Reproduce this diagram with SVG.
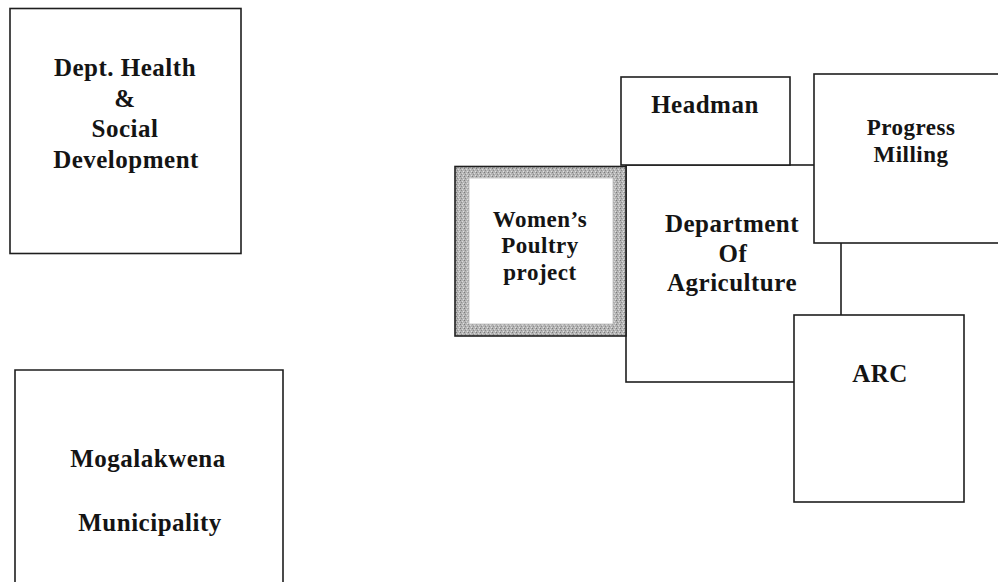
<svg xmlns="http://www.w3.org/2000/svg" width="998" height="582" viewBox="0 0 998 582">
<defs>
<pattern id="stip" width="4" height="4" patternUnits="userSpaceOnUse">
<rect width="4" height="4" fill="#b4b4b4"/>
<rect x="0" y="0" width="1" height="1" fill="#7a7a7a"/>
<rect x="2" y="1" width="1" height="1" fill="#d8d8d8"/>
<rect x="1" y="2" width="1" height="1" fill="#8c8c8c"/>
<rect x="3" y="3" width="1" height="1" fill="#e0e0e0"/>
</pattern>
</defs>
<style>
.box{fill:#fff;stroke:#1e1e1e;stroke-width:1.6}
.t{font-family:"Liberation Serif","Times New Roman",serif;font-weight:bold;fill:#141414;text-anchor:middle;letter-spacing:0.5px}
.l{font-size:25px}
.s{font-size:23px}
</style>
<rect width="998" height="582" fill="#fff"/>
<g id="connectors"></g>
<g id="dept-health">
<rect class="box" x="10" y="8.5" width="231" height="245"/>
<text class="t l" x="125" y="76">Dept. Health</text>
<text class="t l" x="125" y="107">&amp;</text>
<text class="t l" x="125" y="137">Social</text>
<text class="t l" x="126" y="168">Development</text>
</g>
<g id="mogalakwena">
<path class="box" d="M15,600 V370 H283 V600"/>
<text class="t l" x="148" y="467">Mogalakwena</text>
<text class="t l" x="150" y="531">Municipality</text>
</g>
<g id="dept-agriculture">
<rect class="box" x="626" y="165" width="215" height="217"/>
<text class="t l" x="732" y="232">Department</text>
<text class="t l" x="733" y="262">Of</text>
<text class="t l" x="732" y="291">Agriculture</text>
</g>
<g id="headman">
<rect class="box" x="621" y="77" width="169" height="88"/>
<text class="t l" x="705" y="113">Headman</text>
</g>
<g id="womens-poultry">
<rect x="455" y="166.5" width="171" height="169.5" fill="url(#stip)" stroke="#1e1e1e" stroke-width="1.6"/>
<rect x="469" y="178" width="144" height="146" fill="#fff" stroke="#c8c8c8" stroke-width="1"/>
<text class="t s" x="540" y="227">Women’s</text>
<text class="t s" x="540" y="253">Poultry</text>
<text class="t s" x="540" y="280">project</text>
</g>
<g id="progress-milling">
<rect class="box" x="814" y="74" width="190" height="169"/>
<text class="t s" x="911" y="135">Progress</text>
<text class="t s" x="911" y="162">Milling</text>
</g>
<g id="arc">
<rect class="box" x="794" y="315" width="170" height="187"/>
<text class="t l" x="880" y="382">ARC</text>
</g>
</svg>
